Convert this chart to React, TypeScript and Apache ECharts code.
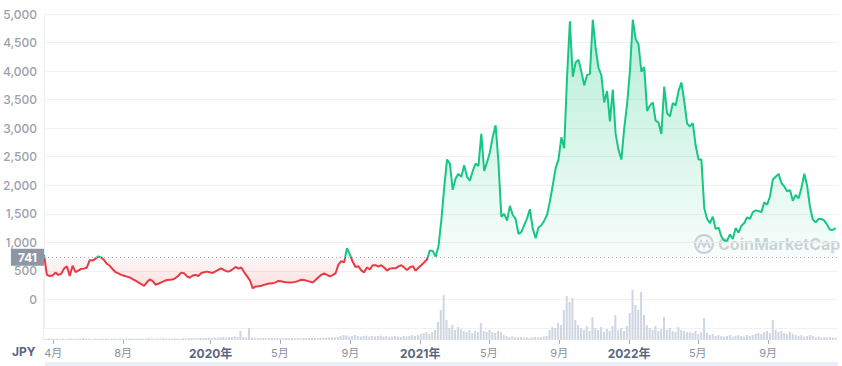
import React, { useEffect, useRef } from "react";
import * as echarts from "echarts";

// ---- data ----
const startDate = [2019, 2, 14]; // 2019-03-14 (year, monthIndex, day)
const stepDays = 5;
const axisEnd = [2023, 0, 1];
const baselinePrice = 741;
const currency = "JPY";

const priceValues = [
  780, 430, 410, 420, 470, 430, 450, 540, 580, 410,
  590, 480, 505, 535, 540, 560, 690, 680, 715, 755,
  735, 690, 625, 590, 530, 480, 455, 430, 415, 400,
  385, 355, 330, 300, 270, 237, 300, 350, 320, 258,
  275, 298, 320, 340, 345, 350, 375, 415, 470, 460,
  405, 380, 420, 430, 410, 462, 475, 488, 475, 465,
  490, 520, 545, 515, 490, 495, 530, 570, 540, 560,
  480, 410, 340, 196, 225, 230, 240, 255, 270, 278,
  282, 300, 325, 318, 307, 300, 296, 300, 308, 325,
  345, 340, 326, 312, 298, 340, 390, 430, 458, 430,
  405, 425, 460, 610, 670, 650, 898, 790, 660, 570,
  580, 510, 475, 560, 525, 600, 600, 575, 600, 560,
  505, 540, 547, 545, 580, 600, 560, 517, 560, 585,
  505, 555, 600, 650, 700, 860, 850, 750, 926, 1380,
  1950, 2450, 2380, 1920, 2120, 2200, 2150, 2350, 2150, 2080,
  2250, 2380, 2340, 2900, 2250, 2400, 2580, 2850, 3050, 2400,
  1450, 1500, 1380, 1640, 1480, 1410, 1150, 1180, 1300, 1420,
  1580, 1240, 1073, 1260, 1300, 1380, 1480, 1720, 2000, 2300,
  2450, 2840, 2650, 3900, 4870, 3900, 4150, 4200, 3990, 3750,
  3930, 3950, 4900, 4400, 4055, 3930, 3450, 3650, 3120, 3675,
  2900, 2620, 2450, 3000, 3420, 4000, 4900, 4560, 4470, 3990,
  4070, 3300, 3400, 3450, 3130, 3100, 2900, 3730, 3260, 3210,
  3440, 3400, 3650, 3800, 3480, 3080, 3030, 3090, 2700, 2450,
  2450, 1600, 1410, 1337, 1450, 1235, 1260, 1100, 1030, 1030,
  1140, 1060, 1250, 1170, 1290, 1340, 1440, 1410, 1530, 1560,
  1550, 1530, 1700, 1660, 1803, 2100, 2150, 2200, 2040, 1980,
  1895, 1915, 1730, 1830, 1770, 1950, 2200, 1990, 1620, 1400,
  1350, 1410, 1410, 1380, 1310, 1219, 1219, 1249,
];

const volumeValues = [
  1, 1, 1.5, 1, 1, 1.5, 1, 1.2, 1, 1.5,
  1.5, 1, 1.2, 1.5, 2, 1.5, 1.2, 1, 1.5, 1.2,
  1.5, 1.2, 1.5, 1, 1.2, 1.5, 1.2, 1.5, 1, 1.5,
  1.2, 1.5, 1.2, 1.5, 1.5, 1.2, 1.5, 1.8, 1.5, 1.2,
  1.5, 1.5, 1.8, 1.5, 1.2, 1.5, 1.8, 1.5, 1.5, 1.8,
  1.5, 1.8, 2, 1.5, 1.8, 2, 1.8, 2, 2.2,
  2, 2.5, 2.2, 2.5, 3, 2.5, 2.8, 3, 3.5, 3,
  9, 3, 2.5, 12,
  2.5, 2, 2, 1.8, 2, 1.8, 2, 2.2, 1.8, 2,
  1.5, 1.8, 2, 1.8, 2, 1.5, 1.8, 1.5, 2, 1.8,
  2, 2.2, 2, 1.8, 2, 2.5, 2.2, 2.5, 3, 2.8, 3,
  4, 5, 4.5, 3.5, 4, 5, 4, 3.5, 4, 4.5,
  3.5, 4, 3.5, 4, 4.5, 3.5, 4, 3, 3.5, 4,
  3.5, 3, 4, 3.5, 4, 5, 4, 5, 6,
  7, 8, 6, 8, 10, 18,
  30, 45, 20,
  12, 15, 10, 13, 11, 9,
  8, 10, 7, 9, 8, 17, 9, 8, 10, 8, 7, 9,
  8, 5, 4, 3, 3.5, 3, 2.5, 3, 2.5, 3, 2, 2.5, 3, 2.5, 3, 3.5, 4,
  10, 13, 12, 17, 15,
  30, 44, 38, 42, 20,
  15, 12, 10, 14, 9, 23, 12, 10, 13, 8, 11, 9, 14, 25, 10, 12, 9, 14,
  27, 50, 35, 30, 48, 25, 15,
  12, 10, 14, 9, 11, 23, 10, 12, 9, 8, 13, 10, 9, 8,
  8, 7, 9, 6, 8, 22,
  7, 5, 6, 4, 5, 4, 3.5, 4, 5, 3.5, 4, 5, 4, 3.5, 5, 4, 5, 6,
  7, 6, 8, 9, 7, 20, 10, 8, 9, 7, 6, 8, 6,
  5, 4, 5, 3.5, 4, 5, 4, 3, 3.5, 2.5, 3, 2.5, 3, 2.5, 2,
];

const xTickLabels = [
  "2019-04-01", "2019-08-01", "2020-01-01", "2020-05-01", "2020-09-01",
  "2021-01-01", "2021-05-01", "2021-09-01", "2022-01-01", "2022-05-01", "2022-09-01",
];

const yMin = -500;
const yMax = 5000;
const yInterval = 500;

// ---- styling ----
const GREEN = "#16c784";
const RED = "#ea3943";
const FONT = 'Inter, "Noto Sans CJK JP", sans-serif';

const GRID_TOP = 14;
const GRID_H = 314;
const VOL_TOP = 280;
const VOL_H = 60;

const pad = (n: number) => (n < 10 ? "0" + n : String(n));
const fmtDate = (d: Date) => `${d.getFullYear()}-${pad(d.getMonth() + 1)}-${pad(d.getDate())}`;

export default function App() {
  const ref = useRef<HTMLDivElement>(null);

  useEffect(() => {
    document.body.style.margin = "0";
    if (!ref.current) return;
    const chart = echarts.init(ref.current, undefined, { renderer: "svg" });

    // daily categories for the date axis
    const days: string[] = [];
    for (let k = 0; ; k++) {
      const d = new Date(startDate[0], startDate[1], startDate[2] + k);
      days.push(fmtDate(d));
      if (d.getFullYear() === axisEnd[0] && d.getMonth() === axisEnd[1] && d.getDate() === axisEnd[2]) break;
      if (k > 5000) break;
    }
    const nDays = days.length;

    const priceData = priceValues.map((v, i) => [i * stepDays, v]);
    const volData: (number | null)[] = new Array(nDays).fill(null);
    volumeValues.forEach((v, i) => {
      if (i * stepDays < nDays) volData[i * stepDays] = v;
    });
    const tickSet = new Set(xTickLabels);
    const showTick = (_idx: number, val: string) => tickSet.has(val);

    const pxPerUnit = GRID_H / (yMax - yMin);
    const yOf = (v: number) => GRID_TOP + (yMax - v) * pxPerUnit;
    const gTop = yOf(yMax);
    const gBot = yOf(0);
    const base = (yOf(baselinePrice) - gTop) / (gBot - gTop);

    const areaGradient = {
      type: "linear",
      x: 0,
      y: gTop,
      x2: 0,
      y2: gBot,
      global: true,
      colorStops: [
        { offset: 0, color: "rgba(22,199,132,0.32)" },
        { offset: base, color: "rgba(22,199,132,0.03)" },
        { offset: base, color: "rgba(234,57,67,0.03)" },
        { offset: 1, color: "rgba(234,57,67,0.22)" },
      ],
    };
    const lineGradient = {
      type: "linear",
      x: 0,
      y: gTop,
      x2: 0,
      y2: gBot,
      global: true,
      colorStops: [
        { offset: 0, color: GREEN },
        { offset: base, color: GREEN },
        { offset: base, color: RED },
        { offset: 1, color: RED },
      ],
    };

    chart.setOption({
      animation: false,
      textStyle: { fontFamily: FONT },
      grid: [
        { left: 43, right: 4, top: GRID_TOP, height: GRID_H },
        { left: 43, right: 4, top: VOL_TOP, height: VOL_H },
      ],
      xAxis: [
        {
          type: "value",
          gridIndex: 0,
          min: 0,
          max: nDays - 1,
          show: false,
          splitLine: { show: false },
        },
        {
          type: "category",
          gridIndex: 1,
          data: days,
          boundaryGap: false,
          axisLine: { show: false },
          splitLine: { show: false },
          axisTick: {
            show: true,
            length: 4,
            interval: showTick,
            lineStyle: { color: "#a9afbb" },
          },
          axisLabel: {
            interval: showTick,
            margin: 7,
            formatter: (val: string) => {
              const [y, m] = val.split("-").map(Number);
              return m === 1 ? `{y|${y}年}` : `{m|${m}月}`;
            },
            rich: {
              y: { fontWeight: "bold", color: "#58667e", fontSize: 12, fontFamily: FONT },
              m: { color: "#8a91a0", fontSize: 11, fontFamily: FONT },
            },
          },
        },
      ],
      yAxis: [
        {
          type: "value",
          gridIndex: 0,
          min: yMin,
          max: yMax,
          interval: yInterval,
          axisLine: { show: true, lineStyle: { color: "#eceef2" } },
          axisTick: { show: false },
          splitLine: { lineStyle: { color: "#eff1f4" } },
          axisLabel: {
            margin: 7,
            color: "#9aa0ac",
            fontSize: 12,
            fontWeight: 500,
            formatter: (v: number) => (v < 0 ? "" : v.toLocaleString("en-US")),
          },
        },
        {
          type: "value",
          gridIndex: 1,
          min: 0,
          max: 60,
          axisLine: { show: true, lineStyle: { color: "#eceef2" } },
          axisTick: { show: false },
          axisLabel: { show: false },
          splitLine: { show: false },
        },
      ],
      series: [
        {
          type: "line",
          xAxisIndex: 0,
          yAxisIndex: 0,
          data: priceData,
          showSymbol: false,
          symbol: "none",
          lineStyle: { width: 2, color: lineGradient },
          areaStyle: { origin: baselinePrice, color: areaGradient, opacity: 1 },
          markLine: {
            silent: true,
            symbol: ["none", "none"],
            data: [{ yAxis: baselinePrice }],
            lineStyle: { type: [1, 3], color: "#a6acb8", width: 1 },
            label: {
              position: "start",
              formatter: String(baselinePrice),
              backgroundColor: "#8f96a3",
              color: "#ffffff",
              fontWeight: "bold",
              fontSize: 12,
              padding: [3, 7, 2, 7],
              distance: 0,
            },
          },
          z: 3,
        },
        {
          type: "bar",
          xAxisIndex: 1,
          yAxisIndex: 1,
          data: volData,
          barWidth: 2,
          itemStyle: { color: "#cfd5e1" },
          z: 2,
        },
      ],
      graphic: [
        {
          type: "text",
          left: 12,
          top: 345,
          style: { text: currency, fill: "#58667e", font: `bold 12px ${FONT}` },
        },
        {
          type: "rect",
          shape: { x: 45, y: 362, width: 793, height: 6 },
          style: { fill: "#eaeef7" },
        },
        {
          type: "group",
          z: 10,
          children: [
            {
              type: "ring",
              shape: { cx: 704, cy: 244, r: 10, r0: 7.8 },
              style: { fill: "rgba(150,158,172,0.45)" },
            },
            {
              type: "polyline",
              shape: { points: [[698, 248], [701, 241], [704, 247], [707, 241], [710, 248]] },
              style: { stroke: "rgba(150,158,172,0.45)", lineWidth: 2, fill: "none" },
            },
            {
              type: "text",
              x: 718,
              y: 236,
              style: {
                text: "CoinMarketCap",
                fill: "rgba(150,158,172,0.45)",
                font: `bold 16px ${FONT}`,
              },
            },
          ],
        },
      ],
    });

    return () => chart.dispose();
  }, []);

  return <div ref={ref} style={{ width: 842, height: 366 }} />;
}
